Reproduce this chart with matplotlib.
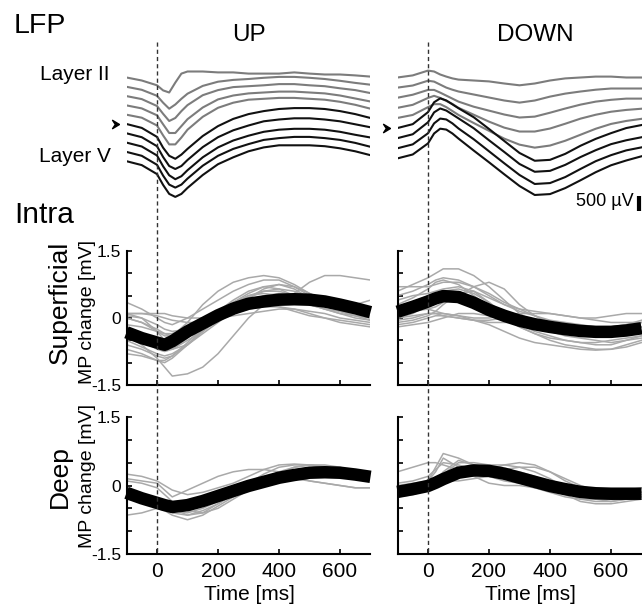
import numpy as np
import matplotlib
matplotlib.use("Agg")
from matplotlib import pyplot as plt
from matplotlib.lines import Line2D

plt.rcParams['font.family'] = ['Liberation Sans', 'DejaVu Sans']

# ---- LFP data (uV, relative to each channel's baseline) ----
lfp_t = [-100, -50, 0, 20, 40, 60, 80, 100, 150, 200, 250, 300, 350, 400, 450, 500, 550, 600, 650, 700]

lfp_up_gray = [
    [0, -100, -260, -430, -500, -170, 130, 200, 200, 170, 170, 130, 130, 130, 170, 130, 100, 100, 70, 30],
    [0, -100, -300, -530, -730, -590, -400, -230, 30, 170, 230, 260, 300, 330, 330, 300, 260, 200, 130, 70],
    [0, -100, -330, -590, -830, -730, -500, -300, 30, 200, 300, 330, 360, 400, 400, 360, 330, 260, 200, 100],
    [0, -100, -330, -630, -920, -920, -690, -460, -70, 200, 330, 400, 430, 460, 460, 430, 400, 330, 230, 130],
    [0, -100, -360, -690, -990, -990, -760, -500, -70, 230, 400, 500, 530, 560, 560, 530, 500, 430, 330, 200],
]
lfp_up_black = [
    [0, -130, -430, -790, -1060, -1160, -1020, -830, -400, -70, 170, 330, 430, 500, 530, 530, 500, 430, 330, 200],
    [0, -130, -430, -790, -1090, -1190, -1090, -890, -460, -130, 100, 260, 400, 460, 500, 500, 460, 400, 300, 200],
    [0, -130, -430, -790, -1090, -1220, -1120, -920, -490, -160, 70, 230, 360, 430, 460, 460, 430, 360, 260, 170],
    [0, -130, -430, -790, -1090, -1190, -1090, -890, -460, -130, 100, 260, 400, 460, 500, 500, 460, 400, 300, 170],
    [0, -130, -430, -790, -1090, -1190, -1090, -890, -460, -100, 130, 330, 460, 530, 530, 530, 500, 430, 330, 200],
]
lfp_down_gray = [
    [0, 70, 230, 200, 100, 30, -30, -70, -100, -130, -200, -260, -200, -100, -30, 0, 30, 30, 0, 0],
    [0, 70, 230, 200, 100, 0, -70, -130, -230, -330, -430, -500, -430, -300, -200, -130, -70, -30, -30, -30],
    [0, 100, 260, 260, 170, 70, -30, -130, -300, -430, -560, -660, -630, -500, -360, -230, -130, -70, -30, -30],
    [0, 100, 330, 400, 330, 230, 130, 0, -230, -460, -660, -790, -790, -690, -530, -360, -230, -130, -70, -30],
    [0, 100, 360, 460, 460, 360, 230, 100, -170, -430, -690, -890, -990, -920, -760, -560, -360, -200, -100, -30],
]
lfp_down_black = [
    [0, 130, 530, 860, 990, 920, 790, 660, 360, -30, -430, -830, -1090, -1060, -860, -590, -360, -170, 0, 100],
    [0, 130, 530, 860, 990, 920, 790, 660, 330, -70, -460, -860, -1120, -1090, -890, -630, -400, -200, -70, 30],
    [0, 130, 500, 830, 990, 960, 830, 660, 300, -100, -500, -890, -1190, -1160, -960, -690, -430, -230, -70, 30],
    [0, 130, 500, 830, 990, 960, 830, 660, 260, -130, -530, -920, -1220, -1190, -990, -730, -460, -230, -70, 70],
]

# ---- intracellular data (mV) ----
mp_t = [-100, -50, 0, 25, 50, 100, 150, 200, 250, 300, 350, 400, 450, 500, 550, 600, 650, 700]

sup_up_mean = [-0.32, -0.45, -0.55, -0.6, -0.52, -0.3, -0.12, 0.06, 0.21, 0.32, 0.37, 0.41, 0.42, 0.41, 0.37, 0.3, 0.22, 0.13]
sup_up_cells = [
    [0.0, -0.1, -0.3, -0.5, -0.7, -0.6, -0.3, 0.0, 0.2, 0.3, 0.4, 0.4, 0.55, 0.8, 0.95, 0.95, 0.9, 0.85],
    [-0.4, -0.6, -0.9, -1.1, -1.3, -1.25, -1.1, -0.8, -0.4, 0.0, 0.3, 0.45, 0.5, 0.45, 0.3, 0.15, 0.05, 0.0],
    [0.1, 0.0, -0.3, -0.4, -0.4, -0.1, 0.3, 0.6, 0.8, 0.9, 0.95, 0.9, 0.75, 0.55, 0.4, 0.3, 0.2, 0.1],
    [0.35, 0.2, 0.0, -0.1, -0.15, 0.0, 0.2, 0.4, 0.6, 0.75, 0.85, 0.85, 0.7, 0.5, 0.35, 0.25, 0.15, 0.1],
    [0.1, 0.1, 0.1, 0.1, 0.05, 0.0, 0.0, 0.0, 0.05, 0.1, 0.15, 0.2, 0.2, 0.1, 0.0, -0.1, -0.15, -0.2],
    [-0.6, -0.7, -0.85, -0.9, -0.85, -0.6, -0.3, 0.0, 0.25, 0.45, 0.6, 0.65, 0.6, 0.45, 0.3, 0.15, 0.05, -0.05],
    [-0.5, -0.65, -0.8, -0.85, -0.8, -0.6, -0.35, -0.1, 0.15, 0.35, 0.5, 0.55, 0.5, 0.4, 0.3, 0.25, 0.2, 0.15],
    [-0.2, -0.35, -0.6, -0.7, -0.7, -0.5, -0.3, -0.05, 0.2, 0.45, 0.65, 0.75, 0.7, 0.55, 0.4, 0.3, 0.2, 0.15],
    [-0.7, -0.8, -0.95, -1.0, -0.9, -0.6, -0.25, 0.05, 0.3, 0.5, 0.6, 0.6, 0.5, 0.4, 0.3, 0.2, 0.1, 0.05],
    [0.05, 0.0, -0.15, -0.25, -0.3, -0.25, -0.1, 0.05, 0.15, 0.2, 0.25, 0.25, 0.2, 0.15, 0.1, 0.0, -0.05, -0.1],
    [-0.3, -0.4, -0.5, -0.55, -0.5, -0.35, -0.15, 0.1, 0.35, 0.55, 0.7, 0.75, 0.65, 0.45, 0.3, 0.25, 0.3, 0.4],
    [-0.15, -0.2, -0.3, -0.35, -0.35, -0.2, 0.0, 0.15, 0.3, 0.4, 0.45, 0.45, 0.4, 0.3, 0.2, 0.1, 0.0, -0.05],
    [-0.8, -0.85, -0.95, -0.95, -0.85, -0.55, -0.2, 0.1, 0.35, 0.5, 0.55, 0.5, 0.4, 0.3, 0.25, 0.2, 0.15, 0.1],
    [0.0, -0.1, -0.25, -0.35, -0.4, -0.3, -0.1, 0.15, 0.4, 0.6, 0.7, 0.65, 0.5, 0.35, 0.2, 0.1, 0.05, 0.05],
    [-0.4, -0.5, -0.7, -0.75, -0.7, -0.45, -0.15, 0.1, 0.3, 0.4, 0.35, 0.25, 0.15, 0.05, 0.0, -0.05, -0.1, -0.15],
    [0.1, 0.1, 0.05, 0.0, -0.05, -0.1, -0.1, 0.0, 0.1, 0.2, 0.3, 0.35, 0.35, 0.3, 0.2, 0.15, 0.1, 0.05],
]

sup_down_mean = [0.14, 0.25, 0.37, 0.44, 0.49, 0.47, 0.34, 0.18, 0.05, -0.06, -0.14, -0.2, -0.25, -0.29, -0.31, -0.31, -0.28, -0.23]
sup_down_cells = [
    [0.6, 0.75, 0.9, 1.0, 1.1, 1.1, 0.95, 0.7, 0.4, 0.1, -0.1, -0.2, -0.25, -0.3, -0.35, -0.4, -0.35, -0.3],
    [0.5, 0.6, 0.75, 0.85, 0.9, 0.85, 0.7, 0.5, 0.3, 0.15, 0.05, -0.1, -0.2, -0.25, -0.3, -0.3, -0.25, -0.2],
    [-0.1, -0.05, 0.05, 0.15, 0.3, 0.55, 0.6, 0.35, 0.05, -0.2, -0.35, -0.45, -0.5, -0.55, -0.55, -0.5, -0.45, -0.4],
    [0.2, 0.25, 0.2, 0.15, 0.1, 0.05, 0.0, 0.0, 0.05, 0.1, 0.1, 0.1, 0.05, 0.0, 0.0, 0.05, 0.1, 0.1],
    [0.3, 0.45, 0.65, 0.8, 0.85, 0.75, 0.5, 0.25, 0.05, -0.15, -0.3, -0.4, -0.5, -0.55, -0.6, -0.6, -0.5, -0.4],
    [-0.2, -0.15, -0.1, -0.05, 0.0, 0.1, 0.1, 0.05, -0.05, -0.1, -0.1, -0.15, -0.2, -0.25, -0.3, -0.3, -0.25, -0.2],
    [0.0, 0.1, 0.3, 0.45, 0.5, 0.55, 0.4, 0.2, 0.0, -0.2, -0.35, -0.5, -0.6, -0.65, -0.7, -0.7, -0.65, -0.55],
    [0.4, 0.5, 0.55, 0.6, 0.65, 0.7, 0.6, 0.45, 0.3, 0.2, 0.15, 0.1, 0.05, 0.0, -0.05, -0.1, -0.1, -0.1],
    [0.1, 0.15, 0.2, 0.25, 0.35, 0.5, 0.7, 0.8, 0.65, 0.3, 0.05, -0.1, -0.2, -0.25, -0.25, -0.2, -0.15, -0.1],
    [-0.05, 0.0, 0.1, 0.1, 0.1, 0.05, -0.05, -0.15, -0.3, -0.45, -0.55, -0.6, -0.65, -0.7, -0.72, -0.7, -0.6, -0.5],
    [0.7, 0.7, 0.7, 0.75, 0.8, 0.8, 0.7, 0.55, 0.35, 0.2, 0.05, -0.05, -0.1, -0.15, -0.2, -0.25, -0.25, -0.2],
    [0.0, 0.05, 0.1, 0.1, 0.05, 0.0, -0.05, -0.1, -0.1, -0.1, -0.15, -0.2, -0.3, -0.35, -0.4, -0.4, -0.35, -0.3],
    [0.25, 0.35, 0.5, 0.55, 0.6, 0.65, 0.55, 0.35, 0.1, -0.1, -0.2, -0.3, -0.4, -0.45, -0.5, -0.55, -0.5, -0.45],
    [-0.15, -0.1, 0.0, 0.05, 0.05, 0.0, -0.05, -0.05, 0.0, 0.0, -0.05, -0.1, -0.15, -0.2, -0.25, -0.2, -0.15, -0.05],
]

deep_up_mean = [-0.16, -0.28, -0.38, -0.43, -0.47, -0.43, -0.34, -0.23, -0.12, -0.01, 0.08, 0.17, 0.23, 0.28, 0.29, 0.28, 0.24, 0.19]
deep_up_cells = [
    [0.25, 0.2, 0.1, 0.0, -0.1, -0.2, -0.15, -0.05, 0.05, 0.2, 0.35, 0.45, 0.47, 0.45, 0.4, 0.35, 0.3, 0.25],
    [-0.65, -0.6, -0.5, -0.55, -0.65, -0.75, -0.65, -0.45, -0.25, -0.05, 0.1, 0.2, 0.3, 0.35, 0.35, 0.3, 0.25, 0.2],
    [0.1, 0.05, -0.05, -0.2, -0.35, -0.55, -0.6, -0.5, -0.3, -0.1, 0.1, 0.25, 0.4, 0.45, 0.42, 0.35, 0.3, 0.3],
    [-0.2, -0.25, -0.3, -0.4, -0.5, -0.65, -0.6, -0.4, -0.2, 0.0, 0.15, 0.3, 0.4, 0.45, 0.45, 0.4, 0.3, 0.25],
    [0.15, 0.1, 0.05, -0.1, -0.25, -0.1, 0.05, 0.2, 0.3, 0.35, 0.35, 0.3, 0.2, 0.1, 0.05, 0.0, -0.05, -0.05],
    [-0.1, -0.2, -0.35, -0.45, -0.55, -0.6, -0.5, -0.35, -0.2, 0.0, 0.1, 0.15, 0.15, 0.1, 0.05, 0.0, -0.05, -0.05],
    [-0.3, -0.35, -0.4, -0.5, -0.6, -0.65, -0.55, -0.4, -0.2, 0.05, 0.25, 0.4, 0.45, 0.45, 0.4, 0.35, 0.3, 0.3],
]

deep_down_mean = [-0.14, -0.08, -0.01, 0.06, 0.14, 0.28, 0.33, 0.32, 0.26, 0.17, 0.08, -0.01, -0.08, -0.14, -0.17, -0.18, -0.18, -0.18]
deep_down_cells = [
    [0.3, 0.4, 0.5, 0.5, 0.45, 0.35, 0.3, 0.3, 0.35, 0.4, 0.4, 0.3, 0.15, 0.0, -0.1, -0.15, -0.15, -0.15],
    [-0.1, -0.05, 0.1, 0.4, 0.7, 0.6, 0.45, 0.4, 0.35, 0.3, 0.2, 0.05, -0.1, -0.2, -0.25, -0.25, -0.2, -0.2],
    [-0.2, -0.15, -0.1, 0.05, 0.25, 0.5, 0.5, 0.45, 0.45, 0.4, 0.3, 0.15, -0.05, -0.2, -0.3, -0.35, -0.3, -0.25],
    [-0.05, -0.05, 0.0, 0.1, 0.3, 0.55, 0.45, 0.2, 0.1, 0.05, -0.05, -0.15, -0.25, -0.3, -0.3, -0.3, -0.25, -0.2],
    [-0.25, -0.2, -0.1, 0.0, 0.1, 0.1, 0.15, 0.2, 0.15, 0.1, 0.0, -0.1, -0.2, -0.35, -0.4, -0.4, -0.35, -0.3],
    [0.05, 0.1, 0.2, 0.35, 0.5, 0.45, 0.35, 0.35, 0.45, 0.5, 0.45, 0.3, 0.1, -0.05, -0.15, -0.2, -0.2, -0.15],
    [-0.2, -0.15, -0.05, 0.1, 0.2, 0.3, 0.2, 0.05, 0.0, 0.0, -0.05, -0.1, -0.15, -0.2, -0.2, -0.15, -0.1, -0.05],
    [0.0, 0.05, 0.1, 0.3, 0.6, 0.4, 0.3, 0.3, 0.3, 0.25, 0.15, 0.0, -0.15, -0.3, -0.35, -0.35, -0.3, -0.25],
]

W, H = 642, 604
fig = plt.figure(figsize=(W / 100, H / 100), dpi=100)


def px_axes(l, t, r, b):
    return fig.add_axes([l / W, 1 - b / H, (r - l) / W, (b - t) / H])


def ftext(x, y, s, **kw):
    fig.text(x / W, 1 - y / H, s, **kw)


MS_PX = 0.305          # pixels per ms
UV_PX = 500 / 15.0     # uV per pixel in the LFP panels
cols = [(126.5, 370.5), (397.5, 662)]   # right column runs past the image edge
LFP_TOP, LFP_BOT, BASE0 = 40, 215, 77.5
spacing = [310, 337]

lfp_sets = [(lfp_up_gray, lfp_up_black), (lfp_down_gray, lfp_down_black)]
lfp_axes = []
for k, (l, r) in enumerate(cols):
    ax = px_axes(l, LFP_TOP, r, LFP_BOT)
    ax.set_xlim(-100, -100 + (r - l) / MS_PX)
    ax.set_ylim(-(LFP_BOT - BASE0) * UV_PX, (BASE0 - LFP_TOP) * UV_PX)
    ax.axis('off')
    gray, black = lfp_sets[k]
    for i, tr in enumerate(gray + black):
        c = '#7c7c7c' if i < len(gray) else '#111111'
        ax.plot(lfp_t, np.array(tr) - i * spacing[k], color=c, lw=1.5)
    # arrowhead marking the reference channel
    ax.plot([-123], [-len(gray) * spacing[k]], marker=[(0, 0), (-1, 0.6), (-0.6, 0), (-1, -0.6), (0, 0)],
            ms=10, color='black', clip_on=False)
    lfp_axes.append(ax)

# 500 uV scale bar
ax = lfp_axes[1]
y0 = ax.get_ylim()[0] + (LFP_BOT - 211) * UV_PX
ax.plot([692, 692], [y0, y0 + 500], color='black', lw=3, solid_capstyle='butt', clip_on=False)
ftext(634, 202, '500 µV', fontsize=13, ha='right', va='center')

rows = [(251, 385), (417, 554)]
mp_sets = [[(sup_up_mean, sup_up_cells), (sup_down_mean, sup_down_cells)],
           [(deep_up_mean, deep_up_cells), (deep_down_mean, deep_down_cells)]]
mp_axes = []
for ri, (t, b) in enumerate(rows):
    for k, (l, r) in enumerate(cols):
        ax = px_axes(l, t, r, b)
        ax.set_xlim(-100, -100 + (r - l) / MS_PX)
        ax.set_ylim(-1.5, 1.5)
        mean, cells = mp_sets[ri][k]
        for c in cells:
            ax.plot(mp_t, c, color='#a9a9a9', lw=1.1)
        ax.plot(mp_t, mean, color='black', lw=9, solid_capstyle='butt', clip_on=False, zorder=3)
        for s in ['top', 'right']:
            ax.spines[s].set_visible(False)
        for s in ['left', 'bottom']:
            ax.spines[s].set_linewidth(1.5)
        ax.set_yticks(np.arange(-1.5, 1.51, 0.5))
        if k == 0:
            ax.set_yticklabels(['-1.5', '', '', '0', '', '', '1.5'])
        else:
            ax.set_yticklabels([])
        ax.set_xticks([0, 200, 400, 600])
        if ri == 1:
            ax.set_xticklabels(['0', '200', '400', '600'])
        else:
            ax.set_xticklabels([])
        ax.tick_params(direction='in', length=3.5, width=1.2)
        ax.tick_params(axis='y', labelsize=12.5, pad=4)
        ax.tick_params(axis='x', labelsize=15, pad=6)
        mp_axes.append(ax)

# dashed stimulus line across all rows
for k in range(2):
    x0 = lfp_axes[k].transData.transform((0, 0))[0] / W
    fig.add_artist(Line2D([x0, x0], [1 - 42 / H, 1 - 554 / H], transform=fig.transFigure,
                          color='#333333', lw=1.0, linestyle=(0, (3, 2.2))))

# labels
ftext(14, 33, 'LFP', fontsize=20.5, va='baseline')
ftext(14, 223, 'Intra', fontsize=21.5, va='baseline')
ftext(249, 35, 'UP', fontsize=17.5, ha='center', va='center')
ftext(535, 35, 'DOWN', fontsize=17.5, ha='center', va='center')
ftext(75, 75, 'Layer II', fontsize=15, ha='center', va='center')
ftext(75, 156, 'Layer V', fontsize=15, ha='center', va='center')
ftext(60, 302, 'Superficial', fontsize=19, ha='center', va='center', rotation=90)
ftext(60, 477, 'Deep', fontsize=19, ha='center', va='center', rotation=90)
ftext(88, 312, 'MP change [mV]', fontsize=14, ha='center', va='center', rotation=90)
ftext(88, 476, 'MP change [mV]', fontsize=14, ha='center', va='center', rotation=90)
ftext(249, 595, 'Time [ms]', fontsize=15, ha='center', va='center')
ftext(530, 595, 'Time [ms]', fontsize=15, ha='center', va='center')

fig.savefig('out.png', dpi=100)
